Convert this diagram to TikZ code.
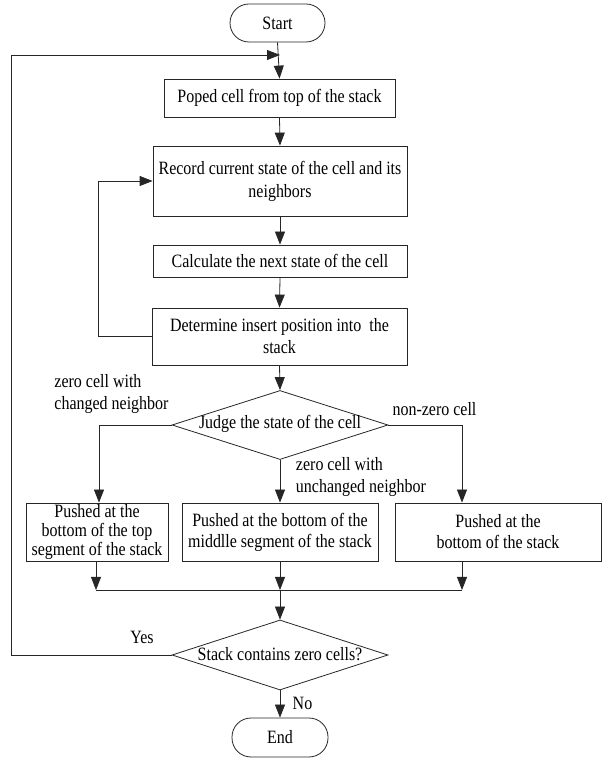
\documentclass[tikz,border=0pt]{standalone}
\usepackage{fontspec}
\setmainfont[FakeStretch=0.85]{Liberation Serif}
\usetikzlibrary{arrows.meta,shapes.geometric}
\begin{document}
\begin{tikzpicture}[x=1pt,y=1pt,
  every node/.style={font=\fontsize{18.8}{19}\selectfont},
  line/.style={draw=black!85, line width=0.8pt},
  arr/.style={line, -{Triangle[length=13pt,width=10pt]}},
  box/.style={line, rectangle, align=center, inner sep=0pt},
  term/.style={line, rectangle, rounded corners=19pt, inner sep=0pt},
  dia/.style={line, diamond, inner sep=0pt},
  lbl/.style={inner sep=0pt}]
\useasboundingbox (0,0) rectangle (602,758);

\node[term, minimum width=95pt, minimum height=38pt] (start) at (277.5,735) {Start};
\node[box, minimum width=231pt, minimum height=38pt] (b1) at (279.5,660) {Poped cell from top of the stack};
\node[box, minimum width=254pt, minimum height=70pt, font=\fontsize{18.8}{23}\selectfont] (b2) at (280,577) {Record current state of the cell and its\\neighbors};
\node[box, minimum width=254pt, minimum height=32pt] (b3) at (280,497) {Calculate the next state of the cell};
\node[box, minimum width=255pt, minimum height=57pt, font=\fontsize{18.8}{22}\selectfont] (b4) at (279.5,421.5) {Determine insert position into\ \ the\\stack};
\node[dia, minimum width=216pt, minimum height=69pt] (d1) at (280,333) {};
\node[lbl] (d1t) at (280,334) {Judge the state of the cell};
\node[box, minimum width=142pt, minimum height=58pt, font=\fontsize{18.8}{18.8}\selectfont] (lb) at (97,226) {Pushed at the\\bottom of the top\\segment of the stack};
\node[box, minimum width=196pt, minimum height=58pt, font=\fontsize{18.8}{21}\selectfont] (mb) at (280,226) {Pushed at the bottom of the\\middlle segment of the stack};
\node[box, minimum width=206pt, minimum height=58pt, font=\fontsize{18.8}{21}\selectfont] (rb) at (498,226) {Pushed at the\\bottom of the stack};
\node[dia, minimum width=216pt, minimum height=70pt] (d2) at (280,103) {};
\node[lbl] (d2t) at (280,104) {Stack contains zero cells?};
\node[term, minimum width=96pt, minimum height=39pt] (end) at (280,20.5) {End};

\node[lbl, align=left, font=\fontsize{18.8}{22}\selectfont] (l1) at (111.5,364) {zero cell with\\changed neighbor};
\node[lbl] (l2) at (434.5,349) {non-zero cell};
\node[lbl, align=left, font=\fontsize{18.8}{22}\selectfont] (l3) at (361,280.5) {zero cell with\\unchanged neighbor};
\node[lbl] (lyes) at (142,121) {Yes};
\node[lbl] (lno) at (302.5,55) {No};

\coordinate (j) at (280,703);
\coordinate (m) at (280,168);

\draw[arr] (start.south) -- (b1.north);
\draw[arr] (b1.south) -- (b2.north);
\draw[arr] (b2.south) -- (b3.north);
\draw[arr] (b3.south) -- (b4.north);
\draw[arr] (b4.south) -- (d1.north);
\draw[arr] (b4.west) -- ++(-53,0) |- (b2.west);
\draw[arr] (d1.west) -| ([xshift=2pt]lb.north);
\draw[arr] (d1.south) -- (mb.north);
\draw[arr] (d1.east) -| ([xshift=-36pt]rb.north);
\draw[arr] ([xshift=-1pt]lb.south) -- ([xshift=-1pt]lb.south |- m);
\draw[arr] (mb.south) -- (m);
\draw[arr] ([xshift=-36pt]rb.south) -- ([xshift=-36pt]rb.south |- m);
\draw[line] ([xshift=-1pt]lb.south |- m) -- ([xshift=-36pt]rb.south |- m);
\draw[arr] (m) -- (d2.north);
\draw[arr] (d2.west) -- (11,103) |- (j);
\draw[arr] (d2.south) -- (end.north);
\end{tikzpicture}
\end{document}
